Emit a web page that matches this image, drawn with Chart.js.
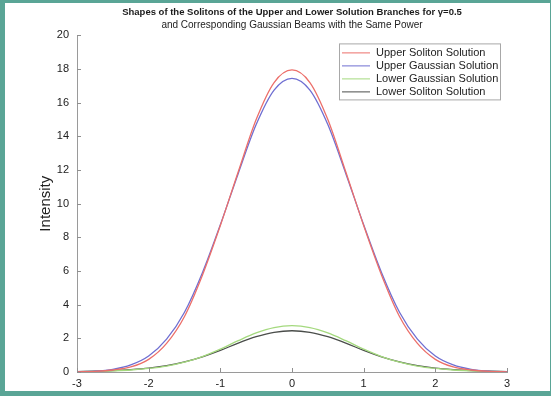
<!DOCTYPE html>
<html>
<head>
<meta charset="utf-8">
<script src="https://cdn.jsdelivr.net/npm/chart.js@4/dist/chart.umd.min.js"></script>
<style>
  html, body { margin: 0; padding: 0; background: #fff; }
  #wrap { position: relative; width: 551px; height: 396px; }
</style>
</head>
<body>
<div id="wrap"><canvas id="solitons" width="551" height="396"></canvas></div>
<script>
// values
const xValues = [-3, -2.75, -2.5, -2.25, -2, -1.75, -1.5, -1.25, -1, -0.75, -0.5, -0.25, 0,
  0.25, 0.5, 0.75, 1, 1.25, 1.5, 1.75, 2, 2.25, 2.5, 2.75, 3];

const upperSoliton = [0.01, 0.04, 0.12, 0.3, 0.75, 1.7, 3.3, 5.75, 8.7, 11.9, 15.0, 17.2, 17.95,
  17.2, 15.0, 11.9, 8.7, 5.75, 3.3, 1.7, 0.75, 0.3, 0.12, 0.04, 0.01];
const upperGaussian = [0.015, 0.05, 0.16, 0.42, 0.95, 1.95, 3.55, 5.9, 8.75, 11.8, 14.7, 16.75, 17.45,
  16.75, 14.7, 11.8, 8.75, 5.9, 3.55, 1.95, 0.95, 0.42, 0.16, 0.05, 0.015];
const lowerGaussian = [0.02, 0.035, 0.07, 0.12, 0.21, 0.35, 0.58, 0.92, 1.36, 1.86, 2.32, 2.64, 2.75,
  2.64, 2.32, 1.86, 1.36, 0.92, 0.58, 0.35, 0.21, 0.12, 0.07, 0.035, 0.02];
const lowerSoliton = [0.025, 0.045, 0.08, 0.14, 0.23, 0.38, 0.6, 0.9, 1.28, 1.72, 2.1, 2.36, 2.45,
  2.36, 2.1, 1.72, 1.28, 0.9, 0.6, 0.38, 0.23, 0.14, 0.08, 0.045, 0.025];

const seriesNames = ["Upper Soliton Solution", "Upper Gaussian Solution", "Lower Gaussian Solution", "Lower Soliton Solution"];
const seriesColors = ["#ec6f6a", "#6f6fd2", "#a4d97e", "#4a4d4a"];
const yTicks = [0, 2, 4, 6, 8, 10, 12, 14, 16, 18, 20];
const xTicks = [-3, -2, -1, 0, 1, 2, 3];

const pts = (ys) => xValues.map((x, i) => ({ x: x, y: ys[i] }));

// teal frame round the figure
const framePlugin = {
  id: "frame",
  beforeDraw(chart) {
    const c = chart.ctx;
    c.save();
    c.fillStyle = "#5aa596";
    c.fillRect(0, 0, chart.width, chart.height);
    c.fillStyle = "#ffffff";
    c.fillRect(5, 3, chart.width - 6, chart.height - 8);
    c.restore();
  },
};

// matlab style ticks pointing into the axes
const inwardTicks = {
  id: "inwardTicks",
  afterDatasetsDraw(chart) {
    const c = chart.ctx;
    const { left, bottom } = chart.chartArea;
    c.save();
    c.strokeStyle = "#8f8f8f";
    c.lineWidth = 1;
    c.beginPath();
    chart.scales.y.ticks.forEach((t) => {
      const py = Math.round(chart.scales.y.getPixelForValue(t.value)) + 0.5;
      c.moveTo(left, py);
      c.lineTo(left + 4, py);
    });
    chart.scales.x.ticks.forEach((t) => {
      const px = Math.round(chart.scales.x.getPixelForValue(t.value)) + 0.5;
      c.moveTo(px, bottom);
      c.lineTo(px, bottom - 4);
    });
    c.stroke();
    c.restore();
  },
};

// legend box in the upper right corner
const boxLegend = {
  id: "boxLegend",
  afterDraw(chart) {
    const c = chart.ctx;
    const area = chart.chartArea;
    const w = 161, h = 56;
    const bx = area.right - 7 - w;
    const by = area.top + 8;
    c.save();
    c.fillStyle = "#fff";
    c.fillRect(bx, by, w, h);
    c.strokeStyle = "#a8a8a8";
    c.lineWidth = 1;
    c.strokeRect(bx + 0.5, by + 0.5, w, h);
    c.font = "11px 'Liberation Sans', Arial, sans-serif";
    c.textBaseline = "middle";
    chart.data.datasets.forEach((ds, i) => {
      const ry = by + 9.5 + i * 13;
      c.strokeStyle = ds.borderColor;
      c.beginPath();
      c.moveTo(bx + 3, ry);
      c.lineTo(bx + 31, ry);
      c.stroke();
      c.fillStyle = "#222";
      c.fillText(ds.label, bx + 37, ry);
    });
    c.restore();
  },
};

const ctx = document.getElementById("solitons");

new Chart(ctx, {
  type: "line",
  data: {
    datasets: [upperSoliton, upperGaussian, lowerGaussian, lowerSoliton].map((ys, i) => ({
      label: seriesNames[i],
      data: pts(ys),
      borderColor: seriesColors[i],
      borderWidth: 1.3,
      pointRadius: 0,
      fill: false,
      cubicInterpolationMode: "monotone",
    })),
  },
  options: {
    responsive: false,
    animation: false,
    layout: { padding: { left: 0, top: 0, right: 44, bottom: 0 } },
    plugins: {
      legend: { display: false },
      tooltip: { enabled: false },
      title: {
        display: true,
        fullSize: false,
        text: "Shapes of the Solitons of the Upper and Lower Solution Branches for \u03b3=0.5",
        color: "#1a1a1a",
        font: { family: "'Liberation Sans', Arial, sans-serif", size: 9.5, weight: "bold", lineHeight: 1.2 },
        padding: { top: 7, bottom: 1 },
      },
      subtitle: {
        display: true,
        fullSize: false,
        text: "and Corresponding Gaussian Beams with the Same Power",
        color: "#222",
        font: { family: "'Liberation Sans', Arial, sans-serif", size: 10, lineHeight: 1.2 },
        padding: { top: 0, bottom: 4 },
      },
    },
    scales: {
      x: {
        type: "linear",
        min: -3,
        max: 3,
        afterFit: (s) => { s.height = 24; },
        afterBuildTicks: (s) => { s.ticks = xTicks.map((v) => ({ value: v })); },
        grid: { display: false, drawTicks: false },
        border: { display: true, color: "#9a9a9a", width: 1 },
        ticks: {
          padding: 5,
          color: "#222",
          font: { family: "'Liberation Sans', Arial, sans-serif", size: 11 },
        },
      },
      y: {
        type: "linear",
        min: 0,
        max: 20,
        afterFit: (s) => { s.width = 77; },
        afterBuildTicks: (s) => { s.ticks = yTicks.map((v) => ({ value: v })); },
        grid: { display: false, drawTicks: false },
        border: { display: true, color: "#9a9a9a", width: 1 },
        ticks: {
          padding: 8,
          color: "#222",
          font: { family: "'Liberation Sans', Arial, sans-serif", size: 11 },
        },
        title: {
          display: true,
          text: "Intensity",
          color: "#222",
          font: { family: "'Liberation Sans', Arial, sans-serif", size: 15 },
          padding: { top: 37, bottom: 0 },
        },
      },
    },
  },
  plugins: [framePlugin, inwardTicks, boxLegend],
});
</script>
</body>
</html>
